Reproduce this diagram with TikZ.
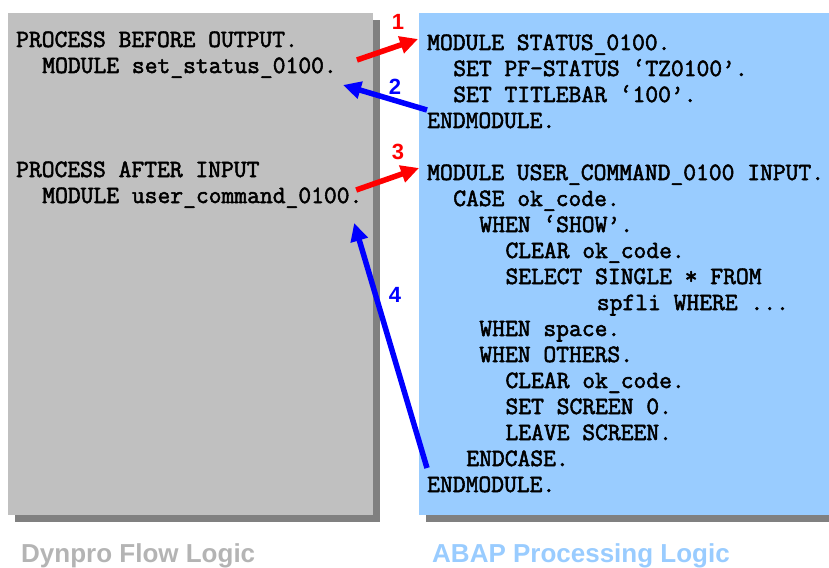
\documentclass[tikz,border=0pt]{standalone}
\usepackage{fontspec}
\setmainfont{Liberation Sans}
\setsansfont{Liberation Sans}
\newfontfamily\codefont{Latin Modern Mono}[FakeBold=2.2]
\usepackage{tikz}
\usetikzlibrary{arrows.meta}

\definecolor{flowgray}{HTML}{C0C0C0}
\definecolor{shadowgray}{HTML}{808080}
\definecolor{abapblue}{HTML}{99CCFF}
\definecolor{titlegray}{HTML}{B4B4B4}

% one monospace cell
\newlength{\cw}
\setlength{\cw}{13.05pt}
\newcommand{\ind}[1]{\hspace*{#1\cw}}

\begin{document}
\begin{tikzpicture}[x=1pt,y=-1pt,
	codeline/.style={anchor=base west,inner sep=0pt,font=\fontsize{24.86}{26}\selectfont\codefont},
	num/.style={inner sep=0pt,font=\fontsize{22}{22}\selectfont\sffamily\bfseries},
	boxtitle/.style={anchor=base west,inner sep=0pt,font=\fontsize{26}{26}\selectfont\sffamily\bfseries},
	flow/.style={line width=5.5pt,-{Triangle[length=18pt,width=17pt]}}]
	\useasboundingbox (0,0) rectangle (829,567);
	% boxes with shadows
	\fill[shadowgray] (15,20) rectangle (380,522);
	\fill[flowgray]   (8,13) rectangle (373,515);
	\fill[shadowgray] (426,515) rectangle (829,522);
	\fill[abapblue]   (419,13) rectangle (829,515);
	% flow logic
	\node[codeline] (l1) at (16,47)  {PROCESS BEFORE OUTPUT.};
	\node[codeline] (l2) at (16,73)  {\ind{2}MODULE set\_status\_0100.};
	\node[codeline] (l3) at (16,177) {PROCESS AFTER INPUT};
	\node[codeline] (l4) at (16,203) {\ind{2}MODULE user\_command\_0100.};
	% processing logic
	\node[codeline] (r1)  at (427,50)  {MODULE STATUS\_0100.};
	\node[codeline] (r2)  at (427,76)  {\ind{2}SET PF-STATUS ‘TZ0100’.};
	\node[codeline] (r3)  at (427,102) {\ind{2}SET TITLEBAR ‘100’.};
	\node[codeline] (r4)  at (427,128) {ENDMODULE.};
	\node[codeline] (r5)  at (427,180) {MODULE USER\_COMMAND\_0100 INPUT.};
	\node[codeline] (r6)  at (427,206) {\ind{2}CASE ok\_code.};
	\node[codeline] (r7)  at (427,232) {\ind{4}WHEN ‘SHOW’.};
	\node[codeline] (r8)  at (427,258) {\ind{6}CLEAR ok\_code.};
	\node[codeline] (r9)  at (427,284) {\ind{6}SELECT SINGLE * FROM};
	\node[codeline] (r10) at (427,310) {\ind{13}spfli WHERE ...};
	\node[codeline] (r11) at (427,336) {\ind{4}WHEN space.};
	\node[codeline] (r12) at (427,362) {\ind{4}WHEN OTHERS.};
	\node[codeline] (r13) at (427,388) {\ind{6}CLEAR ok\_code.};
	\node[codeline] (r14) at (427,414) {\ind{6}SET SCREEN 0.};
	\node[codeline] (r15) at (427,440) {\ind{6}LEAVE SCREEN.};
	\node[codeline] (r16) at (427,466) {\ind{3}ENDCASE.};
	\node[codeline] (r17) at (427,492) {ENDMODULE.};
	% titles
	\node[boxtitle,text=titlegray] (t1) at (21,562)  {Dynpro Flow Logic};
	\node[boxtitle,text=abapblue]  (t2) at (432,562) {ABAP Processing Logic};
	% calls
	\draw[flow,red]  ([xshift=20pt,yshift=13pt]l2.base east) -- ([xshift=-9pt,yshift=11pt]r1.base west);
	\draw[flow,blue] ([yshift=18pt]r4.base west) -- ([xshift=6pt,yshift=-12pt]l2.base east);
	\draw[flow,red]  ([xshift=-6.4pt,yshift=13pt]l4.base east) -- ([xshift=-8pt,yshift=12pt]r5.base west);
	\draw[flow,blue] ([yshift=24pt]r17.base west) -- ([xshift=-8.4pt,yshift=-20pt]l4.base east);
	\node[num,red]  (n1) at (398,22)  {1};
	\node[num,blue] (n2) at (395,87)  {2};
	\node[num,red]  (n3) at (398,152) {3};
	\node[num,blue] (n4) at (395,295) {4};
\end{tikzpicture}
\end{document}
